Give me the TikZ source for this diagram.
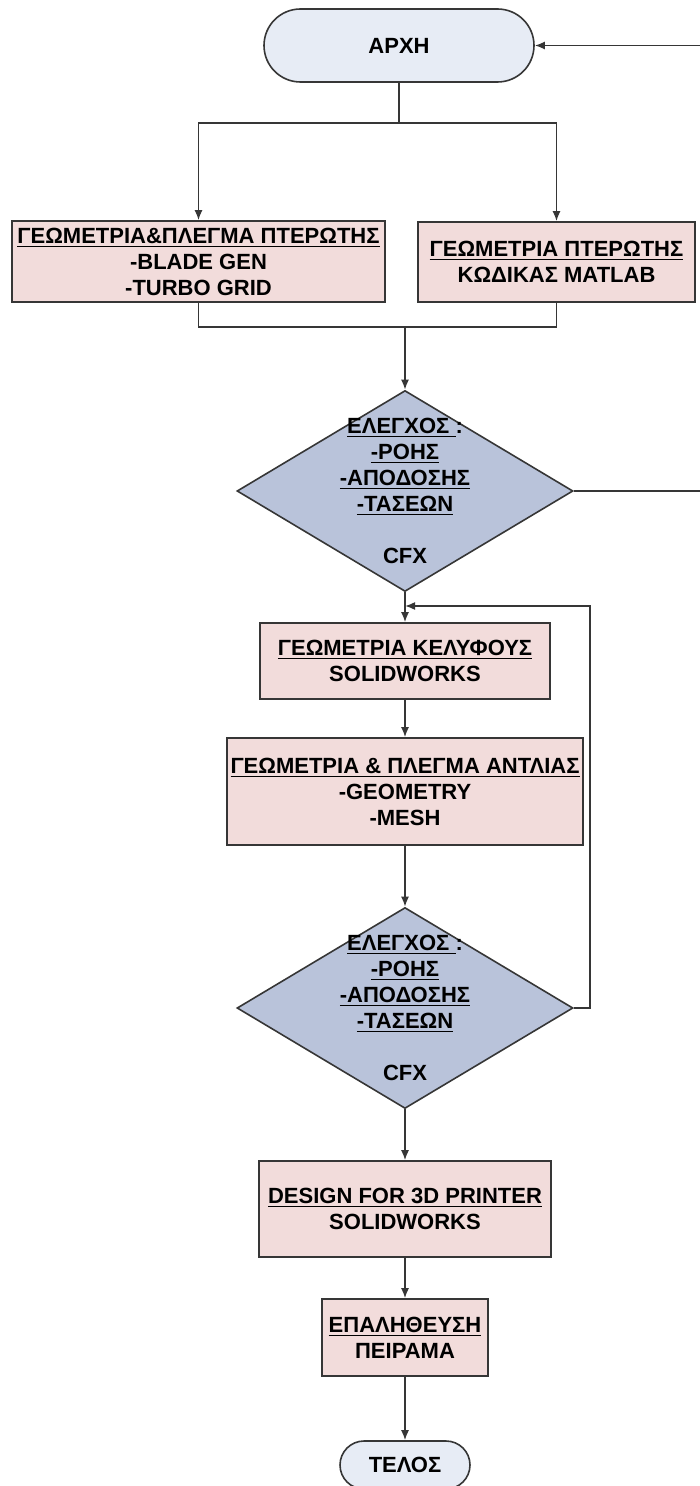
\documentclass[tikz,border=0pt]{standalone}
\usepackage{fontspec}
\setmainfont{Liberation Sans}
\usepackage{xcolor}
\usetikzlibrary{shapes.geometric,shapes.misc,arrows.meta,positioning,calc}

\definecolor{boxpink}{HTML}{F2DCDB}
\definecolor{checkblue}{HTML}{B9C3DA}
\definecolor{termblue}{HTML}{E7ECF5}
\definecolor{linegray}{HTML}{363636}

\begin{document}
\begin{tikzpicture}[x=0.5pt,y=-0.5pt,
    every node/.style={font=\fontsize{11}{13}\selectfont\bfseries, align=center, inner sep=0pt},
    terminal/.style={draw=linegray, line width=0.8pt, fill=termblue, rounded rectangle},
    stepbox/.style={draw=linegray, line width=0.8pt, fill=boxpink, rectangle},
    check/.style={draw=linegray, line width=0.8pt, fill=checkblue, diamond, minimum width=168pt, minimum height=100.5pt},
    flow/.style={draw=linegray, line width=0.8pt},
    arr/.style={flow, -{Latex[length=5pt,width=4pt]}}]

        \useasboundingbox (0,0) rectangle (700,1486);
        \clip (0,0) rectangle (700,1486);

        % Start
        \node[terminal, minimum width=135pt, minimum height=36.5pt] (start) at (399,45.5) {ΑΡΧΗ};

        % Blade geometry (two ways)
        \node[stepbox, minimum width=186.5pt, minimum height=40.5pt] (blade) at (198.5,261.5)
            {\underline{ΓΕΩΜΕΤΡΙΑ\&ΠΛΕΓΜΑ ΠΤΕΡΩΤΗΣ}\\-BLADE GEN\\-TURBO GRID};
        \node[stepbox, minimum width=138.5pt, minimum height=40pt] (matlab) at (556.5,262)
            {\underline{ΓΕΩΜΕΤΡΙΑ ΠΤΕΡΩΤΗΣ}\\ΚΩΔΙΚΑΣ MATLAB};

        % First check
        \node[check, label={center:{\underline{ΕΛΕΓΧΟΣ }:\\\underline{-ΡΟΗΣ}\\\underline{-ΑΠΟΔΟΣΗΣ}\\\underline{-ΤΑΣΕΩΝ}\\[13pt]CFX}}] (check1) at (405,491) {};

        % Casing and pump
        \node[stepbox, minimum width=145pt, minimum height=38pt] (casing) at (405,661)
            {\underline{ΓΕΩΜΕΤΡΙΑ ΚΕΛΥΦΟΥΣ}\\SOLIDWORKS};
        \node[stepbox, minimum width=178pt, minimum height=53.5pt] (pump) at (405,791.5)
            {\underline{ΓΕΩΜΕΤΡΙΑ \& ΠΛΕΓΜΑ ΑΝΤΛΙΑΣ}\\-GEOMETRY\\-MESH};

        % Second check
        \node[check, label={center:{\underline{ΕΛΕΓΧΟΣ }:\\\underline{-ΡΟΗΣ}\\\underline{-ΑΠΟΔΟΣΗΣ}\\\underline{-ΤΑΣΕΩΝ}\\[13pt]CFX}}] (check2) at (405,1008) {};

        % Printing, test, end
        \node[stepbox, minimum width=146pt, minimum height=48pt] (printer) at (405,1209)
            {\underline{DESIGN FOR 3D PRINTER}\\SOLIDWORKS};
        \node[stepbox, minimum width=83pt, minimum height=38.5pt] (test) at (405,1337.5)
            {\underline{ΕΠΑΛΗΘΕΥΣΗ}\\ΠΕΙΡΑΜΑ};
        \node[terminal, minimum width=65pt, minimum height=24pt] (finish) at (405,1465) {ΤΕΛΟΣ};

        % Split and join
        \coordinate (split) at (399,123);
        \coordinate (join) at (405,327);
        \draw[flow] (start.south) -- (split);
        \draw[arr] (split) -| (blade.north);
        \draw[arr] (split) -| (matlab.north);
        \draw[flow] (blade.south) |- (join);
        \draw[flow] (matlab.south) |- (join);
        \draw[arr] (join) -- (check1.north);

        % Main line
        \draw[arr] (check1.south) -- (casing.north);
        \draw[arr] (casing.south) -- (pump.north);
        \draw[arr] (pump.south) -- (check2.north);
        \draw[arr] (check2.south) -- (printer.north);
        \draw[arr] (printer.south) -- (test.north);
        \draw[arr] (test.south) -- (finish.north);

        % Loops back
        \coordinate (back) at (704,491);
        \draw[arr] (check1.east) -- (back) |- (start.east);
        \coordinate (again) at (590,606);
        \draw[arr] (check2.east) -| (again) -- (check1.south |- again);

      \end{tikzpicture}
\end{document}
